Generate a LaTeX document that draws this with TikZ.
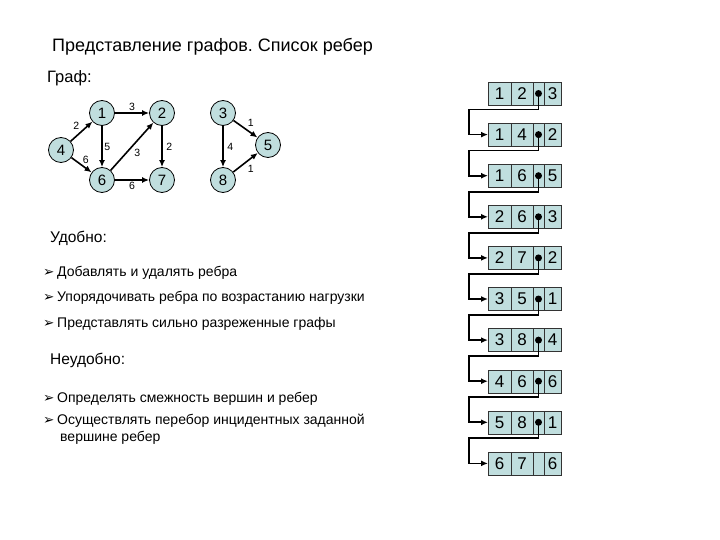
\documentclass[tikz,border=0pt]{standalone}
\usepackage{fontspec}
\setmainfont{Liberation Sans}
\newfontfamily\symfont{DejaVu Sans}
\usepackage{tikz}
\usetikzlibrary{arrows.meta,positioning,calc}
\tikzset{>={Latex[length=7pt,width=6pt]}}
\definecolor{cellteal}{RGB}{192,222,222}
\frenchspacing

\tikzset{
  vertex/.style={circle, draw, thick, fill=cellteal, minimum size=25pt, inner sep=0pt,
    font=\fontsize{15}{15}\selectfont},
  arc/.style={->, line width=1.6pt},
  wlabel/.style={font=\fontsize{10.5}{10.5}\selectfont, inner sep=1.5pt},
  cellbox/.style={rectangle, draw=black!80, fill=cellteal, minimum height=23pt, inner sep=0pt,
    outer sep=0pt, font=\fontsize{17}{17}\selectfont},
  link/.style={-{Latex[length=7pt,width=6pt]}, line width=1.8pt},
  bullet/.style={anchor=base west, inner sep=0pt, font=\symfont\fontsize{13.5}{13.5}\selectfont},
  item/.style={anchor=base west, inner sep=0pt, align=left, font=\fontsize{14}{17}\selectfont},
  head/.style={anchor=base west, inner sep=0pt, font=\fontsize{15.5}{15.5}\selectfont}
}

\begin{document}
\begin{tikzpicture}[x=1pt, y=-1pt]
  \useasboundingbox (0,0) rectangle (720,540);

  % headings
  \node[anchor=base west, inner sep=0pt, font=\fontsize{18}{18}\selectfont] (title) at (52,51.5)
    {Представление графов. Список ребер};
  \node[anchor=base west, inner sep=0pt, font=\fontsize{16.5}{16.5}\selectfont] (graf) at (47,83) {Граф:};

  % graph
  \node[vertex] (v1) at (102,113) {1};
  \node[vertex] (v2) at (162,113) {2};
  \node[vertex] (v4) at (61,150) {4};
  \node[vertex] (v6) at (102,180) {6};
  \node[vertex] (v7) at (162,180) {7};
  \node[vertex] (v3) at (223,113) {3};
  \node[vertex] (v5) at (268,145) {5};
  \node[vertex] (v8) at (223,180) {8};

  \draw[arc] (v1) -- (v2) node[midway, above, wlabel] {3};
  \draw[arc] (v4) -- (v1) node[midway, above left, wlabel] {2};
  \draw[arc] (v1) -- (v6) node[midway, right, wlabel] {5};
  \draw[arc] (v4) -- (v6) node[midway, above right, wlabel, inner sep=0.5pt] {6};
  \draw[arc] (v6) -- (v2) node[midway, below right, wlabel] {3};
  \draw[arc] (v2) -- (v7) node[midway, right, wlabel, xshift=2pt] {2};
  \draw[arc] (v6) -- (v7) node[midway, below, wlabel] {6};
  \draw[arc] (v3) -- (v5) node[midway, above right, wlabel] {1};
  \draw[arc] (v3) -- (v8) node[midway, right, wlabel, xshift=2pt] {4};
  \draw[arc] (v8) -- (v5) node[midway, below right, wlabel] {1};

  % edge list
  \foreach \u/\w/\c [count=\i] in {1/2/3, 1/4/2, 1/6/5, 2/6/3, 2/7/2,
                                   3/5/1, 3/8/4, 4/6/6, 5/8/1, 6/7/6} {
    \pgfmathsetmacro{\ymid}{82 + 41.1*(\i-1) + 11.5}
    \node[cellbox, minimum width=23pt] (r\i a) at (499.5,\ymid) {\u};
    \node[cellbox, minimum width=22pt] (r\i b) at (522,\ymid) {\w};
    \node[cellbox, minimum width=11pt] (r\i c) at (538.5,\ymid) {};
    \node[cellbox, minimum width=17pt] (r\i d) at (552.5,\ymid) {\c};
  }
  \foreach \i [evaluate=\i as \j using int(\i+1)] in {1,...,9} {
    \fill (r\i c.center) circle (3.5pt);
    \draw[link] (r\i c.center) -- ++(0,16) -- ++(-69.5,0) |- (r\j a.west);
  }

  % pros and cons
  \node[head] (good) at (50,243) {Удобно:};
  \node[bullet] (b1) at (43,276) {➢};
  \node[item] (t1) at (57,276) {Добавлять и удалять ребра};
  \node[bullet] (b2) at (43,301.5) {➢};
  \node[item] (t2) at (57,301.5) {Упорядочивать ребра по возрастанию нагрузки};
  \node[bullet] (b3) at (43,327) {➢};
  \node[item] (t3) at (57,327) {Представлять сильно разреженные графы};

  \node[head] (bad) at (50,364.5) {Неудобно:};
  \node[bullet] (b4) at (43,402) {➢};
  \node[item] (t4) at (57,402) {Определять смежность вершин и ребер};
  \node[bullet] (b5) at (43,424) {➢};
  \node[item, anchor=north west] (t5) at (57,413.5)
    {Осуществлять перебор инцидентных заданной\\\hspace*{3pt}вершине ребер};
\end{tikzpicture}
\end{document}
